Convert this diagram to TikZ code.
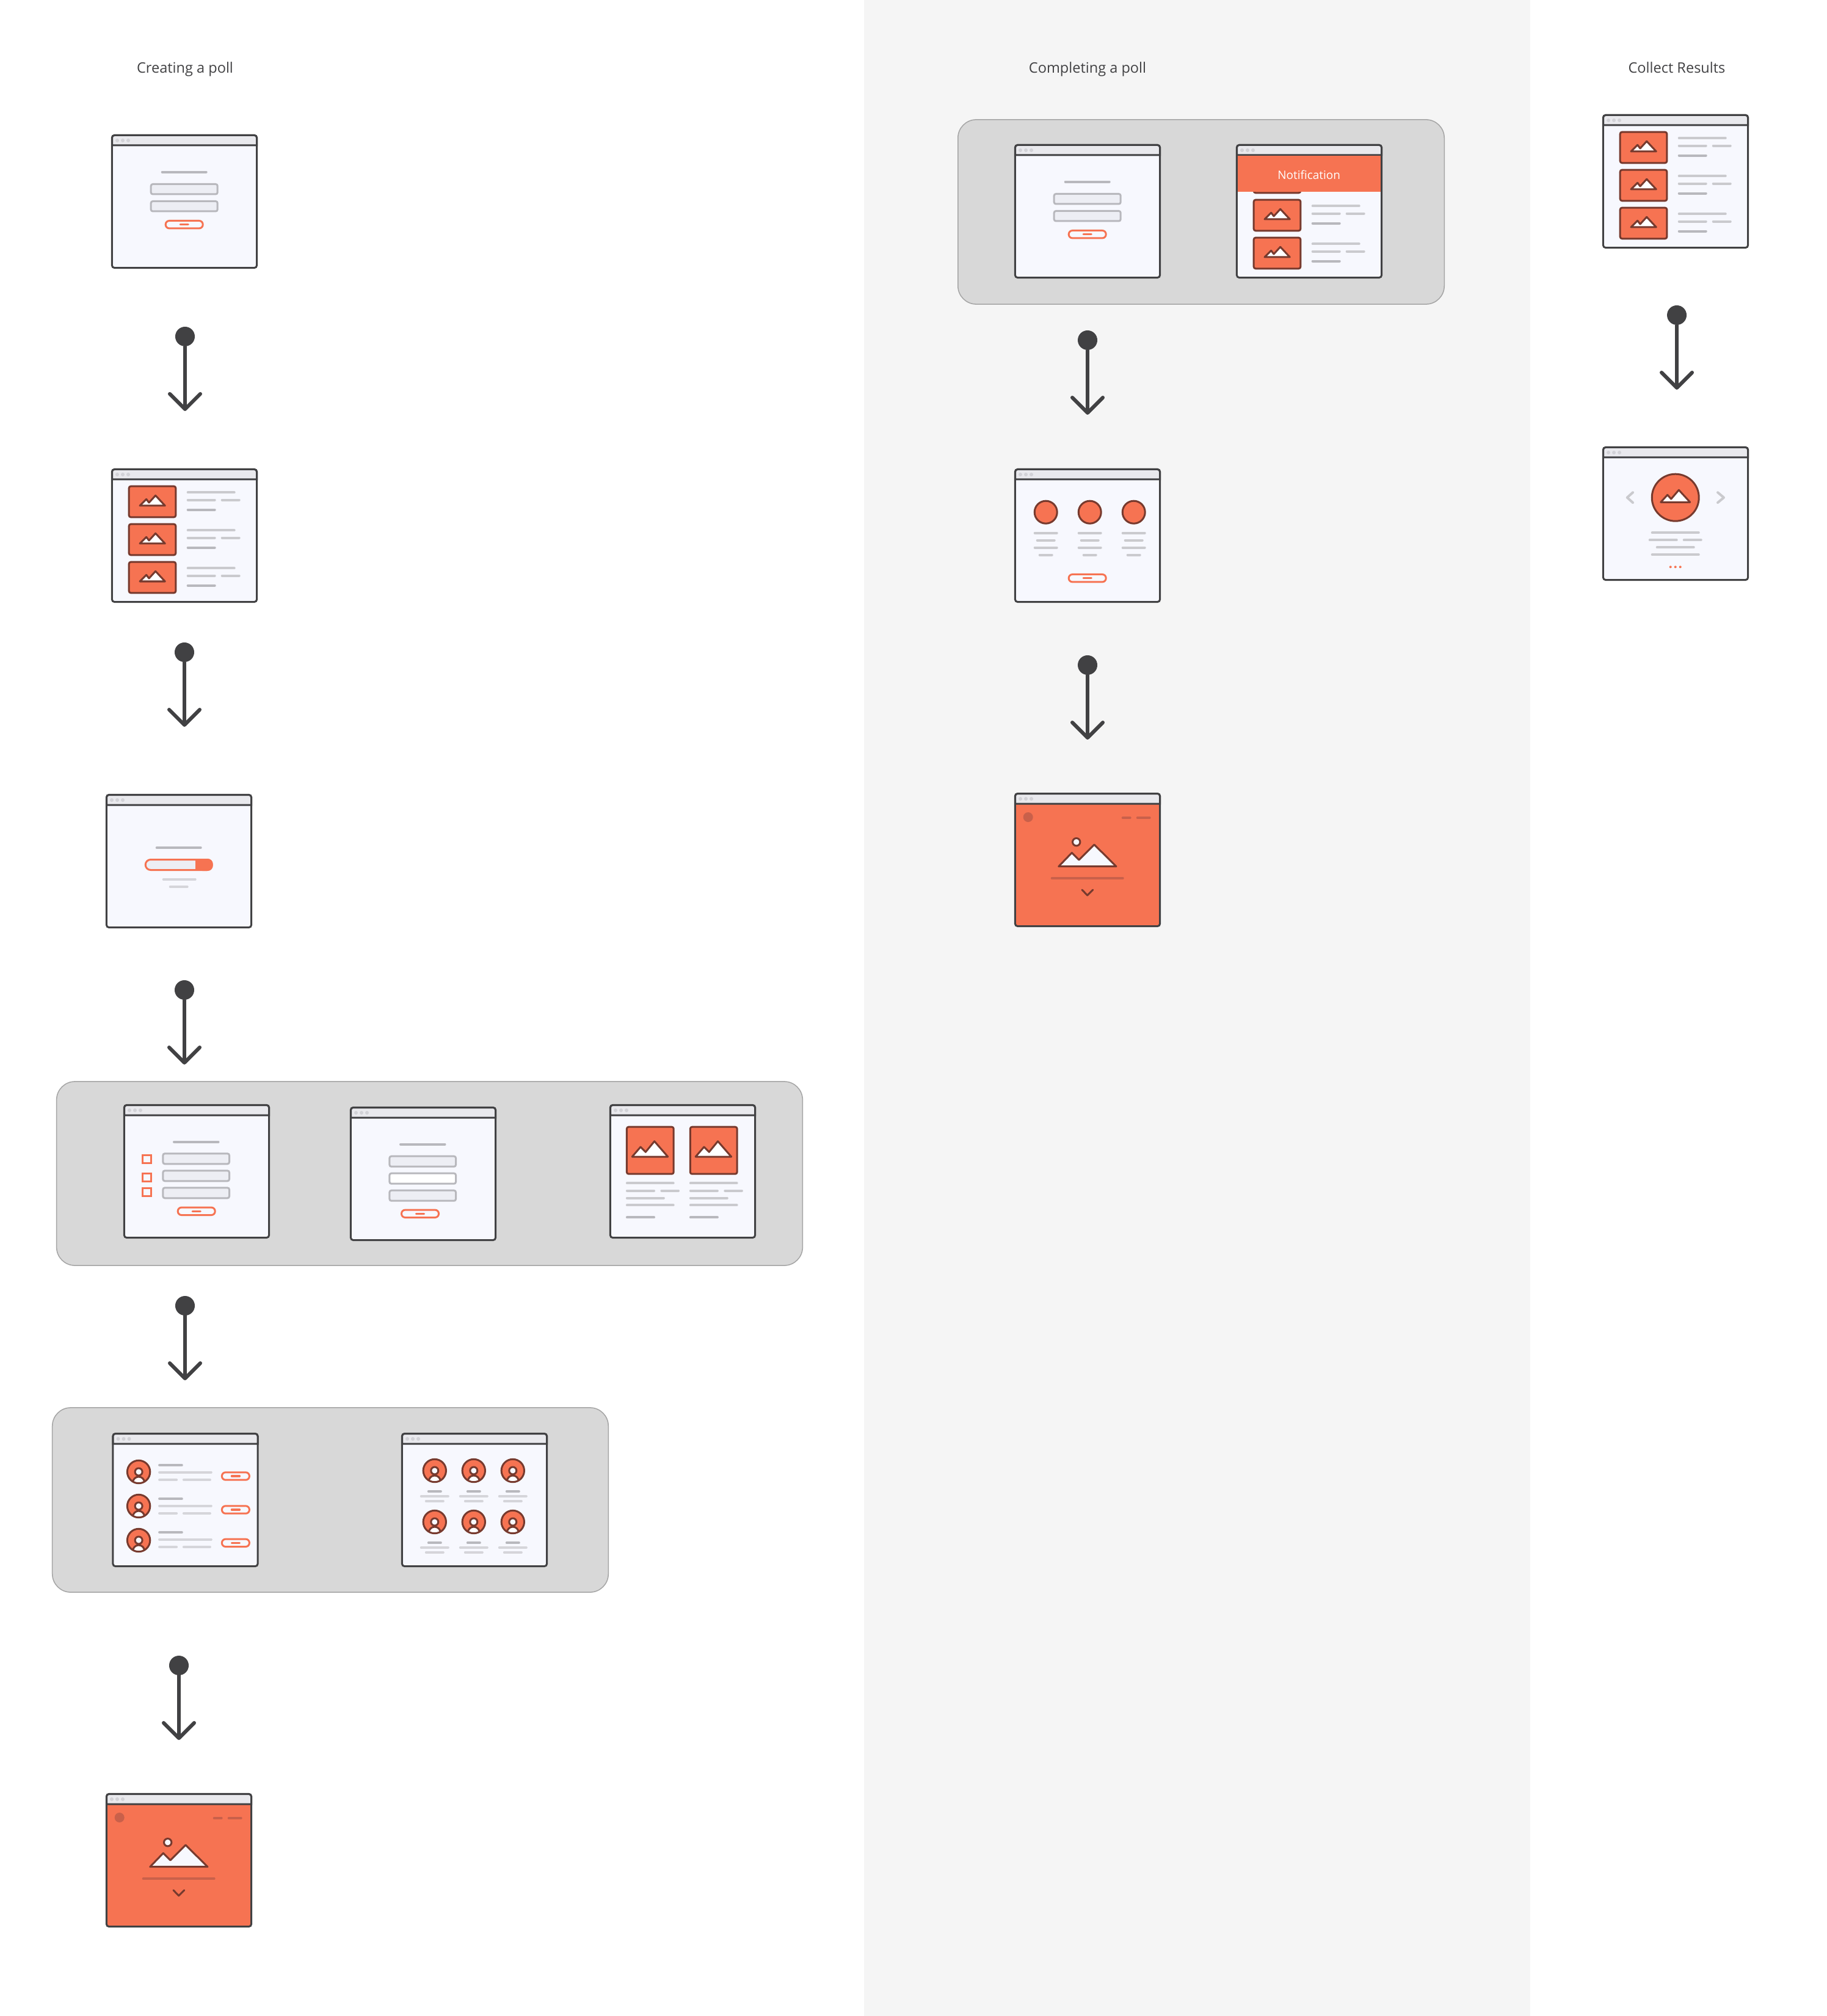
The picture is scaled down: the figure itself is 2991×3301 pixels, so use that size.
\documentclass[tikz,border=0pt]{standalone}
\usepackage{fontspec}
\setmainfont{Open Sans}
\usetikzlibrary{arrows.meta}

\definecolor{inkgrey}{HTML}{414143}
\definecolor{winfill}{HTML}{F7F8FE}
\definecolor{barfill}{HTML}{E9E9ED}
\definecolor{dotgrey}{HTML}{D2D2D7}
\definecolor{redfill}{HTML}{F67352}
\definecolor{redline}{HTML}{773A2E}
\definecolor{reddim}{HTML}{C9604A}
\definecolor{fieldfill}{HTML}{EDEEF4}
\definecolor{darkbar}{HTML}{B8B8BD}
\definecolor{midbar}{HTML}{CACACE}
\definecolor{softbar}{HTML}{D5D5DA}
\definecolor{panelfill}{HTML}{D8D8D8}
\definecolor{paneledge}{HTML}{A5A5A5}
\definecolor{columnfill}{HTML}{F5F5F5}

\tikzset{
  winbox/.style={draw=inkgrey,line width=.03cm,rounded corners=.04cm,inner sep=0,outer sep=0,minimum width=2.37cm,minimum height=2.17cm},
  panel/.style={draw=paneledge,line width=.015cm,fill=panelfill,rounded corners=.3cm,inner sep=0,outer sep=0},
  title/.style={text=inkgrey,font=\fontsize{6.7pt}{8pt}\selectfont,inner sep=0,anchor=base},
  ball/.style={circle,fill=inkgrey,inner sep=0,outer sep=0,minimum size=.32cm},
  flow/.style={draw=inkgrey,line width=.06cm,-{Straight Barb[length=.25cm,width=.5cm,round]}},
  dkbar/.style={draw=darkbar,line width=.04cm,line cap=round},
  mdbar/.style={draw=midbar,line width=.04cm,line cap=round},
  sfbar/.style={draw=softbar,line width=.04cm,line cap=round},
  dimbar/.style={draw=reddim,line width=.04cm,line cap=round},
  imgline/.style={draw=redline,line width=.03cm,line join=round},
  field/.style={draw=darkbar,line width=.03cm,fill=fieldfill,rounded corners=.03cm},
  redbox/.style={draw=redfill,line width=.03cm}
}

% frame, title bar, then whatever goes inside
\newcommand{\uiwin}[5][winfill]{
\begin{scope}[shift={(#3,#4)}]
\node [winbox,fill=#1] (#2) at (120,110) {};
\draw [draw=inkgrey,line width=.03cm,fill=barfill] (1.5,18) [rounded corners=.04cm] -- (1.5,1.5) -- (238.5,1.5) [sharp corners] -- (238.5,18) -- cycle;
\foreach \dx in {10,19,28} \fill [dotgrey] (\dx,10) circle (3);
#5
\end{scope}}
\newcommand{\redbutton}[2]{
\draw [redbox,rounded corners=.06cm] (#1-30.5,#2-6.2) rectangle (#1+30.5,#2+6.2);
\draw [draw=redfill,line width=.033cm,line cap=round] (#1-6.5,#2) -- (#1+6.5,#2);}
\newcommand{\mountainsmall}[2]{
\draw [imgline,fill=white] (#1-20.5,#2+6.5) -- (#1-9.8,#2-4.2) -- (#1-5.5,#2+1.5) -- (#1+5.2,#2-10.2) -- (#1+20.8,#2+6.5) -- cycle;}
\newcommand{\imgrow}[1]{
\draw [imgline,fill=redfill,rounded corners=.03cm] (29.2,#1+29.2) rectangle (105.8,#1+79.8);
\mountainsmall{67.5}{#1+54.5}
\draw [mdbar] (125.7,#1+39.3) -- (201.7,#1+39.3);
\draw [mdbar] (125.7,#1+51.7) -- (169.7,#1+51.7);
\draw [mdbar] (181.7,#1+51.7) -- (209.7,#1+51.7);
\draw [dkbar] (125.7,#1+67.7) -- (169.7,#1+67.7);}
\newcommand{\loginform}{
\draw [dkbar] (83.7,61.7) -- (155.7,61.7);
\draw [field] (65.2,81.5) rectangle (174.2,98);
\draw [field] (65.2,109.5) rectangle (174.2,126);
\redbutton{119.7}{147.7}}
\newcommand{\avatar}[2]{
\begin{scope}[shift={(#1,#2)}]
\fill [redfill] (0,0) circle (18.7);
\begin{scope}
\clip (0,0) circle (18.7);
\draw [imgline,fill=white] (0,17.5) circle (9.5);
\end{scope}
\draw [imgline] (0,0) circle (18.7);
\draw [imgline,fill=winfill] (0,0) circle (6);
\end{scope}}
\newcommand{\heroscreen}{
\fill [reddim] (22.7,40) circle (8);
\draw [dimbar] (177.7,41) -- (189.7,41);
\draw [dimbar] (201.7,41) -- (221.7,41);
\draw [imgline,fill=winfill] (72.7,120.7) -- (94.3,98.3) -- (106,110) -- (131,85) -- (167,120.7) -- cycle;
\draw [imgline,fill=winfill] (101.7,80.7) circle (6.2);
\draw [dimbar] (61.7,140) -- (177.7,140);
\draw [imgline,line cap=round] (111,159) -- (119.7,168) -- (128.7,159);}

\begin{document}
\begin{tikzpicture}[x=.01cm,y=-.01cm]
\useasboundingbox (0,0) rectangle (2991,3301);
\fill [white] (0,0) rectangle (2991,3301);
\fill [columnfill] (1415,0) rectangle (2506,3301);

\node [panel,minimum width=12.21cm,minimum height=3.01cm] (pollpanel) at (703.5,1921.5) {};
\node [panel,minimum width=9.10cm,minimum height=3.02cm] (peoplepanel) at (541,2456) {};
\node [panel,minimum width=7.96cm,minimum height=3.02cm] (startpanel) at (1967,347) {};

\node [title] (creating) at (303,120) {Creating a poll};
\node [title] (completing) at (1781,120) {Completing a poll};
\node [title] (collect) at (2746,120) {Collect Results};

% left column
\uiwin{login}{182}{220}{\loginform}
\uiwin{pick}{182}{767}{\foreach \r in {0,62,124} {\imgrow{\r}}}
\uiwin{progress}{173}{1300}{
\draw [dkbar] (83.7,88) -- (155.7,88);
\draw [redbox,fill=fieldfill,rounded corners=.085cm] (65.2,107.5) rectangle (174.2,124.5);
\fill [redfill,rounded corners=.085cm] (150,106) -- (175.7,106) -- (175.7,126) -- (150,126) [sharp corners] -- cycle;
\fill [redfill] (146.7,106) rectangle (155,126);
\draw [sfbar] (94.7,140) -- (146.7,140);
\draw [sfbar] (105.7,152) -- (133.7,152);}

\uiwin{checks}{202}{1808}{
\draw [dkbar] (83,61.7) -- (155.5,61.7);
\foreach \y in {0,28,56} \draw [field] (64.9,\y+80.8) rectangle (173.5,\y+97.8);
\foreach \y in {81.7,111.7,135.7} \draw [redbox,fill=winfill] (31.8,\y+1.5) rectangle (45.3,\y+14.5);
\redbutton{119.7}{175.3}}
\uiwin{fields}{573}{1812}{
\draw [dkbar] (83,61.7) -- (155.5,61.7);
\draw [field] (64.9,81.2) rectangle (173.5,98.2);
\draw [field,fill=white] (64.9,109.2) rectangle (173.5,126.2);
\draw [field] (64.9,137.2) rectangle (173.5,154.2);
\redbutton{115}{175.3}}
\uiwin{cards}{998}{1808}{
\foreach \c in {0,103.9} {
\draw [imgline,fill=redfill,rounded corners=.03cm] (\c+28.4,37.2) rectangle (\c+105.2,114.2);
\draw [imgline,fill=white] (\c+37.2,86) -- (\c+51,70) -- (\c+59.3,78.3) -- (\c+73.7,60.7) -- (\c+95.7,86) -- cycle;
\draw [mdbar] (\c+28.9,129.3) -- (\c+104.7,129.3);
\draw [mdbar] (\c+28.9,141.7) -- (\c+73,141.7);
\draw [mdbar] (\c+85.4,141.7) -- (\c+113,141.7);
\draw [mdbar] (\c+28.9,153.7) -- (\c+88.9,153.7);
\draw [mdbar] (\c+28.9,165.3) -- (\c+104.7,165.3);
\draw [dkbar] (\c+28.9,185.3) -- (\c+73,185.3);}}

\uiwin{people}{183.5}{2346}{
\foreach \r/\y/\b in {0/64/71,55/120/126,110/176/180.3} {
\avatar{43.6}{\y}
\draw [dkbar] (77.6,\r+53) -- (114.3,\r+53);
\draw [sfbar] (77.6,\r+64.7) -- (162.3,\r+64.7);
\draw [sfbar] (77.6,\r+77) -- (105.6,\r+77);
\draw [sfbar] (117.4,\r+77) -- (160.4,\r+77);
\begin{scope}[shift={(202.4,\b)}]
\draw [redbox,rounded corners=.06cm] (-22.5,-6.2) rectangle (22.5,6.2);
\draw [draw=redfill,line width=.033cm,line cap=round] (-6.5,0) -- (6.5,0);
\end{scope}}}
\uiwin{gallery}{657}{2346}{
\foreach \x in {54.8,118.8,182.8} {
\foreach \y in {0,84} {
\avatar{\x}{\y+62}
\draw [dkbar] (\x-10,\y+96) -- (\x+10,\y+96);
\draw [sfbar] (\x-22,\y+104) -- (\x+22,\y+104);
\draw [sfbar] (\x-14,\y+112) -- (\x+14,\y+112);}}}

\uiwin[redfill]{endleft}{173}{2936}{\heroscreen}

% middle column
\uiwin{loginb}{1661}{236}{\loginform}
\uiwin{notified}{2024}{236}{
\foreach \r in {0,62,124} {\imgrow{\r}}
\fill [redfill] (3,19.5) rectangle (237,78);
\node [text=white,font=\fontsize{5.4pt}{7pt}\selectfont,inner sep=0] (notice) at (119.7,50) {Notification};}
\uiwin{options}{1661}{767}{
\foreach \x in {51.7,123.7,195.7} {
\draw [imgline,fill=redfill] (\x,71.7) circle (18.5);
\draw [mdbar] (\x-18,105.7) -- (\x+18,105.7);
\draw [mdbar] (\x-14,117.7) -- (\x+14,117.7);
\draw [mdbar] (\x-18,129.7) -- (\x+18,129.7);
\draw [mdbar] (\x-10,141.7) -- (\x+10,141.7);}
\redbutton{119.7}{179.7}}
\uiwin[redfill]{endmid}{1661}{1298}{\heroscreen}

% right column
\uiwin{results}{2624}{187}{\foreach \r in {0,62,124} {\imgrow{\r}}}
\uiwin{slides}{2624}{731}{
\draw [imgline,fill=redfill] (119.7,83.7) circle (38.5);
\draw [imgline,fill=white] (95.7,91.3) -- (106.7,79.3) -- (112.7,86) -- (125.3,71.3) -- (143.7,91.3) -- cycle;
\draw [mdbar,line join=round] (50,75.3) -- (40.7,83.7) -- (50,92);
\draw [mdbar,line join=round] (189,75.3) -- (199,83.7) -- (189,92);
\draw [mdbar] (81.7,141.3) -- (157.7,141.3);
\draw [mdbar] (77.7,153.3) -- (121.7,153.3);
\draw [mdbar] (133.7,153.3) -- (161.7,153.3);
\draw [mdbar] (89.7,165.3) -- (149.7,165.3);
\draw [mdbar] (81.7,177.3) -- (157.7,177.3);
\foreach \x in {111.7,119.7,127.7} \fill [redfill] (\x,197.3) circle (2);}

% arrows
\foreach \n/\x/\y in {a/303/551,b/302/1068,c/302/1621,d/303/2138,e/293/2727,f/1781/557,g/1781/1089,h/2746/516} {
\node [ball] (ball\n) at (\x,\y) {};
\coordinate (tip\n) at (\x,\y+122);
\draw [flow] (ball\n) -- (tip\n);}
\end{tikzpicture}
\end{document}
